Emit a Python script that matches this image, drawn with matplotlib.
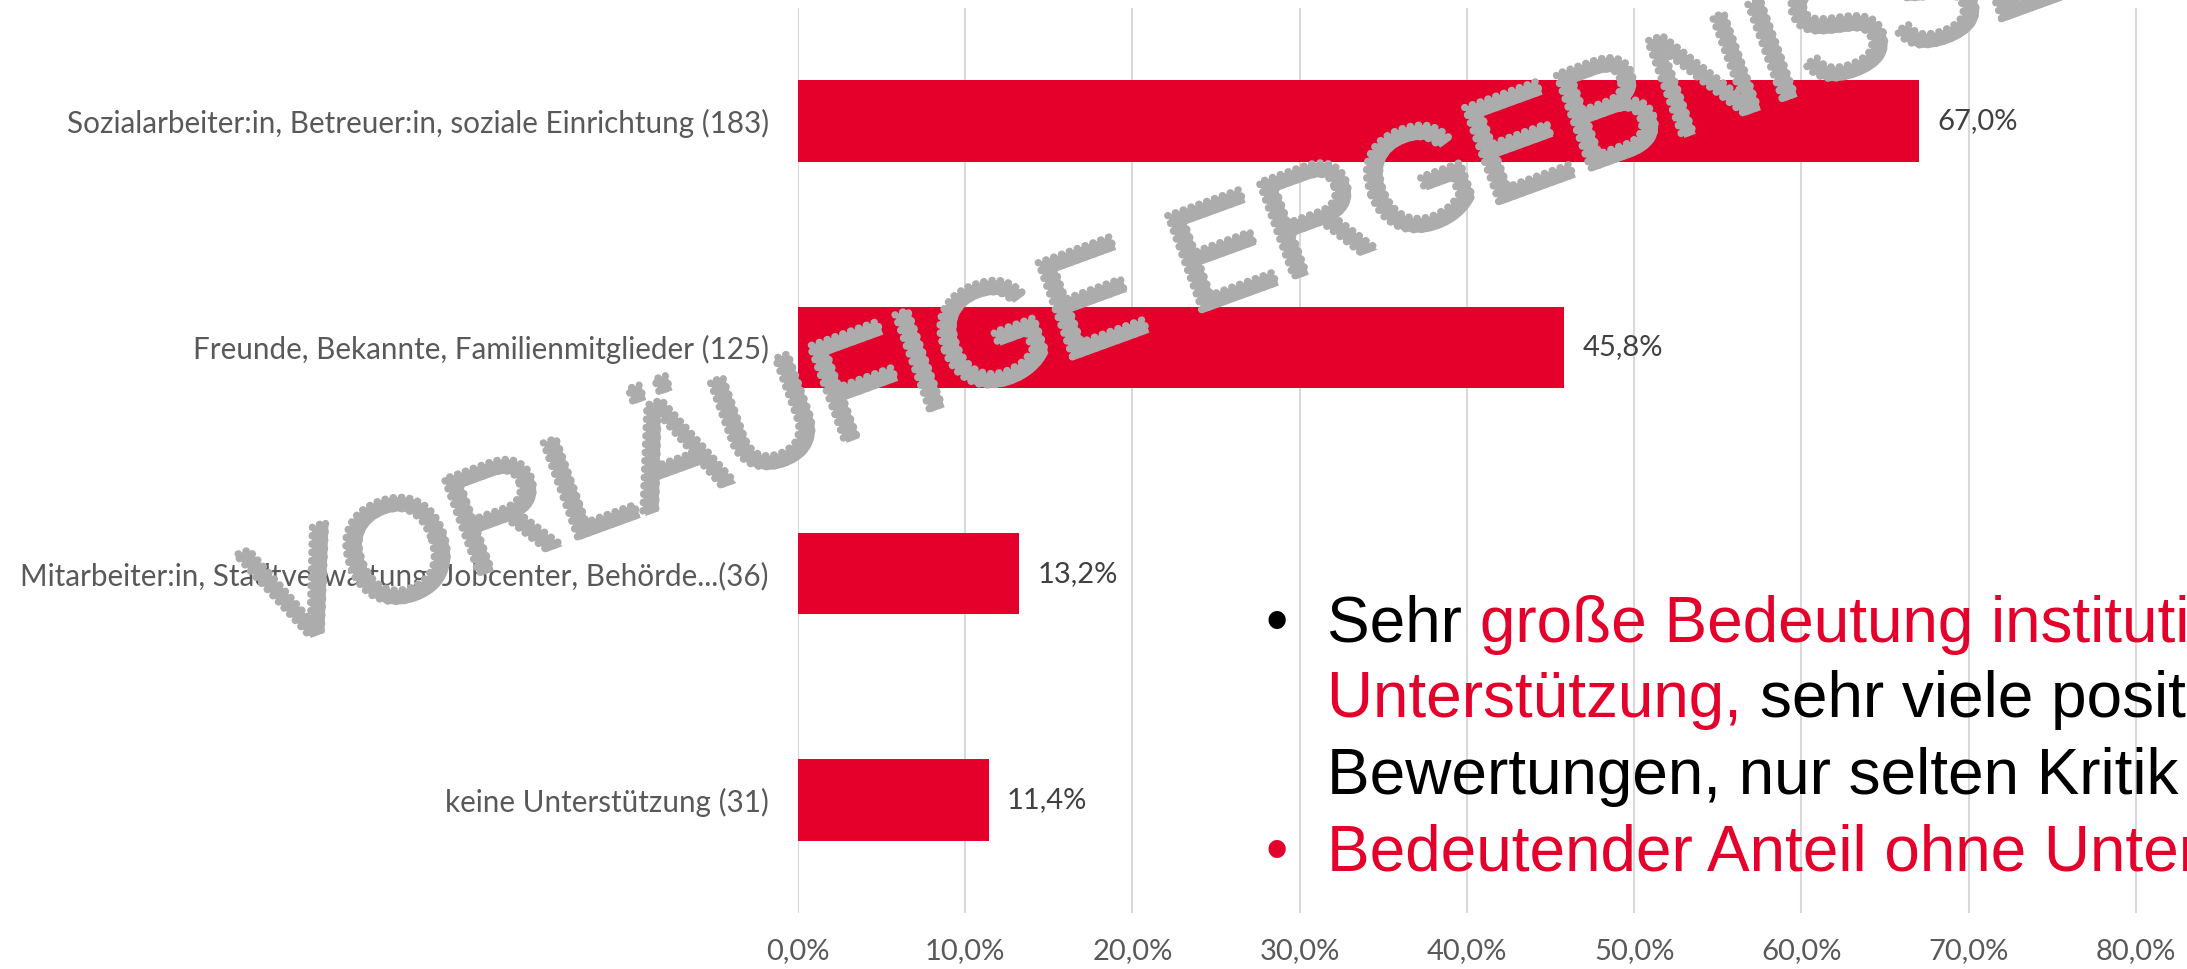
import numpy as np
from matplotlib import pyplot as plt
from matplotlib import patheffects as pe

# Daten
kategorien = ['Sozialarbeiter:in, Betreuer:in, soziale Einrichtung (183)',
              'Freunde, Bekannte, Familienmitglieder (125)',
              'Mitarbeiter:in, Stadtverwaltung, Jobcenter, Behörde...(36)',
              'keine Unterstützung (31)']
anteile = [0.670, 0.458, 0.132, 0.114]
x_ticks = [0.0, 0.1, 0.2, 0.3, 0.4, 0.5, 0.6, 0.7, 0.8]

ROT = '#E4002B'
GRAU = '#595959'

W, H = 2187, 969
fig = plt.figure(figsize=(W / 100, H / 100), dpi=100)

# Achse (rechts über den Rand hinaus, wie im Original abgeschnitten)
ax = fig.add_axes([798 / W, 1 - 913 / H, (W - 798) / W, 905 / H])
y = np.arange(len(kategorien))
ax.barh(y, anteile, height=0.36, color=ROT, zorder=2)
ax.set_ylim(len(kategorien) - 0.5, -0.5)
ax.set_xlim(0, 0.8305)

ax.set_yticks(y)
ax.set_yticklabels(kategorien, family='Lato', fontsize=21.3, color=GRAU)
ax.set_xticks(x_ticks)
ax.set_xticklabels([f'{v * 100:.1f}'.replace('.', ',') + '%' for v in x_ticks],
                   family='Lato', fontsize=21, color=GRAU)
ax.tick_params(axis='both', length=0)
ax.tick_params(axis='y', pad=21)
ax.tick_params(axis='x', pad=18)
for s in ax.spines.values():
    s.set_visible(False)
ax.xaxis.grid(True, color='#d9d9d9', linewidth=1.5, zorder=0)
ax.set_axisbelow(True)

for yi, v in zip(y, anteile):
    ax.text(v + 0.011, yi, f'{v * 100:.1f}'.replace('.', ',') + '%',
            va='center', ha='left', family='Lato', fontsize=21, color='#404040')

# Stichpunkte mit farbigen Teilen
renderer = fig.canvas.get_renderer()
FS = 46


def zeile(x_px, base_px, teile):
    x = x_px
    for txt, farbe in teile:
        t = fig.text(x / W, 1 - base_px / H, txt, color=farbe, fontsize=FS,
                     family='Liberation Sans', va='baseline', ha='left')
        bb = t.get_window_extent(renderer)
        x = bb.x1


fig.text(1277 / W, 1 - 642 / H, '•', color='black', fontsize=FS,
         family='Liberation Sans', va='baseline', ha='center')
zeile(1327, 642, [('Sehr ', 'black'), ('große Bedeutung institutioneller', ROT)])
zeile(1327, 717, [('Unterstützung, ', ROT), ('sehr viele positive', 'black')])
zeile(1327, 794, [('Bewertungen, nur selten Kritik', 'black')])
fig.text(1277 / W, 1 - 871 / H, '•', color=ROT, fontsize=FS,
         family='Liberation Sans', va='baseline', ha='center')
zeile(1327, 871, [('Bedeutender Anteil ohne Unterstützung', ROT)])

# Wasserzeichen
wz = fig.text(272 / W, 1 - 652 / H, 'VORLÄUFIGE ERGEBNISSE', rotation=20,
              rotation_mode='anchor', ha='left', va='baseline',
              fontsize=105, family='Liberation Sans', color='#acacac', zorder=10)
wz.set_path_effects([
    pe.Stroke(offset=(-2, 2), linewidth=5, foreground='#acacac', capstyle='round',
              dashes=dict(dash_offset=0, dash_list=[0.5, 5.5])),
    pe.Normal(),
])

fig.savefig('out.png', dpi=100)
